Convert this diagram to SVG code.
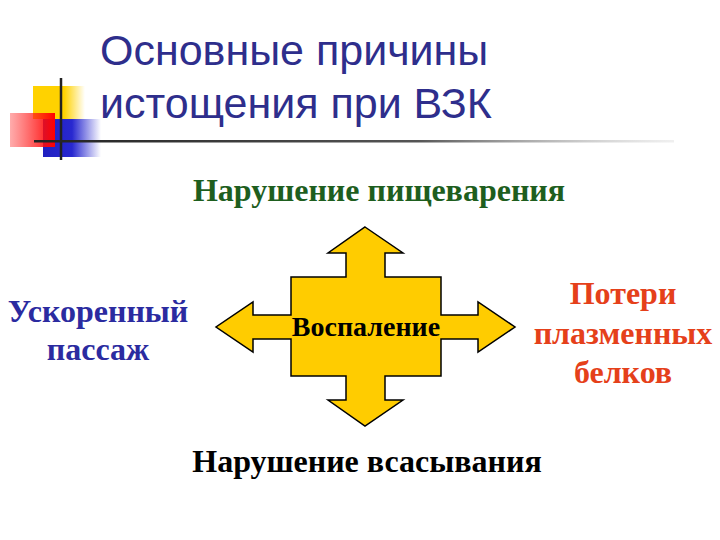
<svg xmlns="http://www.w3.org/2000/svg" width="720" height="540" viewBox="0 0 720 540">
<defs>
<linearGradient id="gy" x1="0" x2="1" y1="0" y2="0"><stop offset="0" stop-color="#FFD200"/><stop offset="0.6" stop-color="#FFD200"/><stop offset="1" stop-color="#FFD200" stop-opacity="0"/></linearGradient>
<linearGradient id="gr" x1="0" x2="1" y1="0" y2="0"><stop offset="0" stop-color="#FF3030" stop-opacity="0.4"/><stop offset="1" stop-color="#FF0000"/></linearGradient>
<linearGradient id="gb" x1="0" x2="1" y1="0" y2="0"><stop offset="0" stop-color="#2020C0"/><stop offset="0.5" stop-color="#2828D0"/><stop offset="1" stop-color="#2828D0" stop-opacity="0"/></linearGradient>
<linearGradient id="gl" x1="0" x2="1" y1="0" y2="0"><stop offset="0" stop-color="#222"/><stop offset="0.6" stop-color="#555"/><stop offset="1" stop-color="#ccc" stop-opacity="0.3"/></linearGradient>
</defs>
<style>
.t{font-family:"Liberation Serif","Times New Roman",serif;font-weight:bold;text-anchor:middle;font-size:32px}
.title{font-family:"Liberation Sans",Arial,sans-serif;font-size:43px;fill:#2E2E8C}
</style>
<g id="decor">
<rect x="33" y="86" width="52" height="33" fill="url(#gy)"/>
<rect x="43" y="119" width="58" height="38" fill="url(#gb)"/>
<rect x="10" y="113" width="45" height="34" fill="url(#gr)"/>
<line x1="61" y1="78" x2="61" y2="160" stroke="#222" stroke-width="2.5"/>
<rect x="34" y="140" width="640" height="2.5" fill="url(#gl)"/>
</g>
<g id="title">
<text class="title" x="100" y="65">Основные причины</text>
<text class="title" x="100" y="118">истощения при ВЗК</text>
</g>
<g id="inflammation">
<path d="M365,227 L403,253 L385,253 L385,277 L441,277 L441,315 L478,315 L478,302 L515,327 L478,352 L478,339 L441,339 L441,376 L385,376 L385,400 L403,400 L365,426 L328,400 L346,400 L346,376 L291,376 L291,339 L253,339 L253,352 L216,327 L253,302 L253,315 L291,315 L291,277 L346,277 L346,253 L328,253 Z" fill="#FFCC00" stroke="#000" stroke-width="1.5" stroke-linejoin="miter"/>
<text class="t" x="366" y="336" style="font-size:28px" fill="#000">Воспаление</text>
</g>
<g id="digestion"><text class="t" x="379" y="201" fill="#1E5E1E">Нарушение пищеварения</text></g>
<g id="absorption"><text class="t" x="367" y="472" fill="#000">Нарушение всасывания</text></g>
<g id="passage"><text class="t" fill="#2B2BA0"><tspan x="98" y="322">Ускоренный</tspan><tspan x="98" y="360">пассаж</tspan></text></g>
<g id="protein"><text class="t" fill="#E5401A"><tspan x="623" y="304">Потери</tspan><tspan x="623" y="344">плазменных</tspan><tspan x="623" y="383">белков</tspan></text></g>
<g id="connectors"></g>
</svg>
